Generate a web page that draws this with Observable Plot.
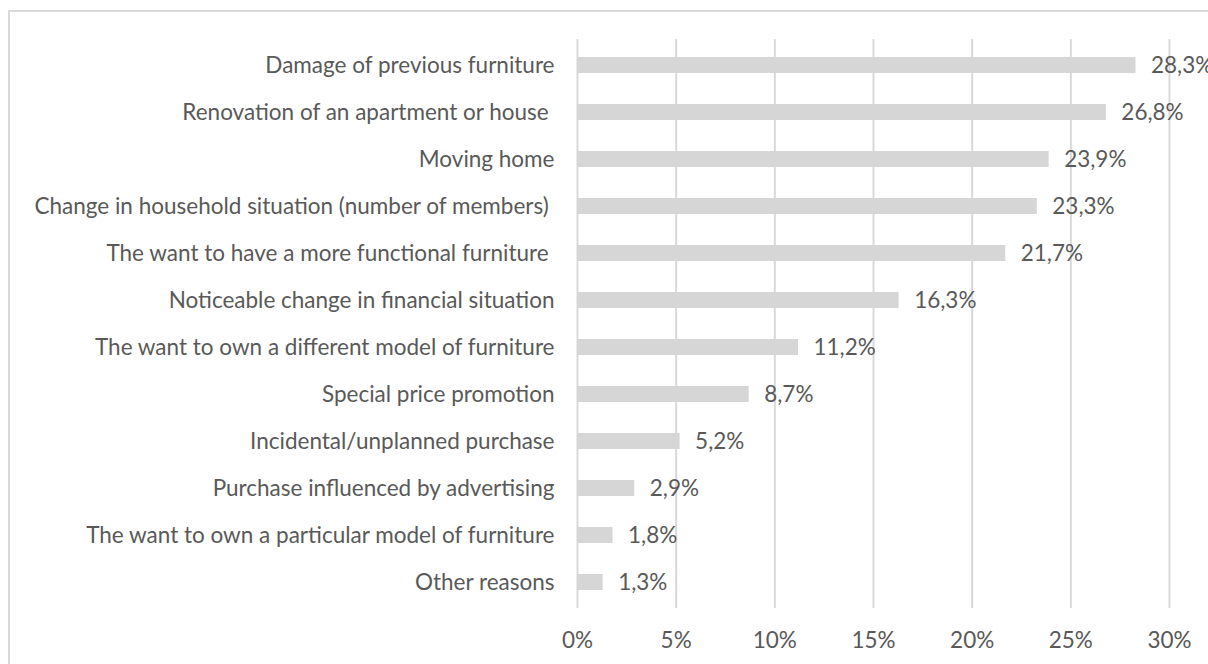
<!DOCTYPE html>
<html>
<head>
<meta charset="utf-8">
<script src="https://cdn.jsdelivr.net/npm/d3@7"></script>
<script src="https://cdn.jsdelivr.net/npm/@observablehq/plot@0.6"></script>
<style>
  html, body { margin: 0; padding: 0; background: #fff; overflow: hidden; }
  #wrap { position: relative; width: 1208px; height: 664px; overflow: hidden; }
  #border { position: absolute; left: 8px; top: 10px; width: 1400px; height: 1000px; border: 2px solid #d9d9d9; box-sizing: border-box; pointer-events: none; }
  #chart { position: absolute; left: 0; top: 0; }
</style>
</head>
<body>
<div id="wrap"><div id="chart"></div><div id="border"></div></div>
<script>
const categories = [
  "Damage of previous furniture",
  "Renovation of an apartment or house\u00a0",
  "Moving home",
  "Change in household situation (number of members)\u00a0",
  "The want to have a more functional furniture\u00a0",
  "Noticeable change in financial situation",
  "The want to own a different model of furniture",
  "Special price promotion",
  "Incidental/unplanned purchase",
  "Purchase influenced by advertising",
  "The want to own a particular model of furniture",
  "Other reasons"
];
const values = [28.3, 26.8, 23.9, 23.3, 21.7, 16.3, 11.2, 8.7, 5.2, 2.9, 1.8, 1.3];
const xTicks = [0, 5, 10, 15, 20, 25, 30];

const data = categories.map((c, i) => ({category: c, value: values[i]}));
const fmt = v => v.toFixed(1).replace(".", ",") + "%";
const FS = 22.5;

const chart = Plot.plot({
  width: 1208,
  height: 664,
  marginLeft: 577,
  marginRight: 39,
  marginTop: 39,
  marginBottom: 56,
  style: {fontFamily: "Lato, 'Open Sans', sans-serif", fontSize: FS + "px", color: "#595959", background: "transparent"},
  x: {domain: [0, 30], label: null},
  y: {domain: categories, paddingInner: 0.66, paddingOuter: 0.33, label: null},
  marks: [
    Plot.gridX(xTicks, {stroke: "#d9d9d9", strokeOpacity: 1, strokeWidth: 2}),
    Plot.barX(data, {x: "value", y: "category", fill: "#d6d6d6"}),
    Plot.text(data, {x: "value", y: "category", text: d => fmt(d.value), textAnchor: "start", dx: 15, fill: "#595959", fontSize: FS}),
    Plot.axisY({tickSize: 0, tickPadding: 23, fontSize: FS, fill: "#595959"}),
    Plot.axisX({ticks: xTicks, tickSize: 0, tickPadding: 24, tickFormat: d => d + "%", fontSize: FS, fill: "#595959"})
  ]
});
document.getElementById("chart").appendChild(chart);
</script>
</body>
</html>
